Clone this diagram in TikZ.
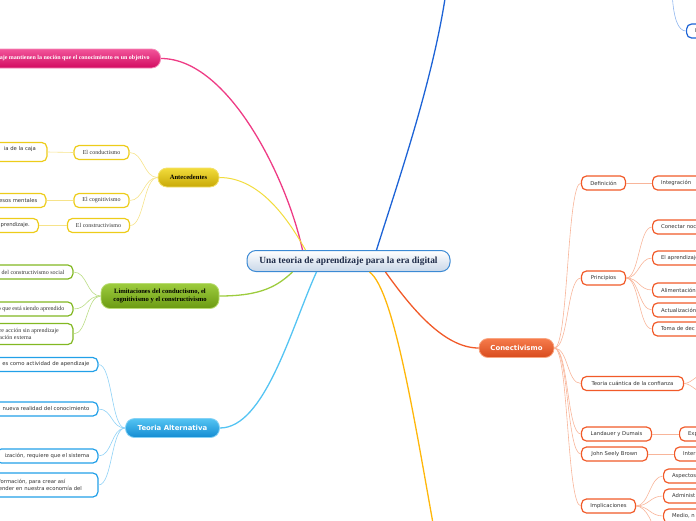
\documentclass[tikz,border=0pt]{standalone}
\usepackage{fontspec}
\setmainfont{Liberation Serif}
\newfontfamily\verdfont{DejaVu Sans}

\definecolor{rootline}{HTML}{3C8AD4}
\definecolor{rootfill}{HTML}{C9D7E8}
\definecolor{roottext}{HTML}{1E2B48}
\definecolor{pinktop}{HTML}{F2559A}
\definecolor{pinkbot}{HTML}{D20A60}
\definecolor{pinkedge}{HTML}{F58AB8}
\definecolor{pinklink}{HTML}{EE3C85}
\definecolor{yeltop}{HTML}{F2DC3C}
\definecolor{yelbot}{HTML}{C8A906}
\definecolor{yeledge}{HTML}{F3E06A}
\definecolor{yelleaf}{HTML}{EDCC1A}
\definecolor{yellink}{HTML}{F6E38A}
\definecolor{grntop}{HTML}{9DCC3E}
\definecolor{grnbot}{HTML}{6B9A12}
\definecolor{grnedge}{HTML}{B9DC72}
\definecolor{grnleaf}{HTML}{82B822}
\definecolor{grnlink}{HTML}{BBDD85}
\definecolor{blutop}{HTML}{55C4F3}
\definecolor{blubot}{HTML}{138BD2}
\definecolor{bluedge}{HTML}{86D2F6}
\definecolor{bluleaf}{HTML}{22A0E8}
\definecolor{blulink}{HTML}{90D2F6}
\definecolor{orgtop}{HTML}{F67B4C}
\definecolor{orgbot}{HTML}{D84B1D}
\definecolor{orgedge}{HTML}{F9A682}
\definecolor{orgleaf}{HTML}{F15A29}
\definecolor{orglink}{HTML}{F8B59A}
\definecolor{dkblue}{HTML}{1D63D6}
\definecolor{dkbluelink}{HTML}{8FB5EE}
\definecolor{goldline}{HTML}{FFB70A}
\definecolor{leaftext}{HTML}{333333}

\tikzset{
  rootbox/.style={draw=rootline, line width=1pt, rounded corners=9pt, top color=white, bottom color=rootfill,
    text=roottext, font=\fontsize{9.4}{11}\selectfont\bfseries, minimum height=21pt, inner xsep=4pt},
  topic/.style={rounded corners=9pt, line width=0.8pt, minimum height=19pt, inner xsep=6pt, inner ysep=2pt, align=center},
  serifbold/.style={font=\fontsize{6.6}{8.3}\selectfont\bfseries},
  sansbold/.style={font=\verdfont\fontsize{6.9}{8}\selectfont\bfseries, text=white},
  pinkbox/.style={topic, draw=pinkedge, top color=pinktop, bottom color=pinkbot, text=white,
    font=\fontsize{6}{7}\selectfont\bfseries},
  yelbox/.style={topic, serifbold, draw=yeledge, top color=yeltop, bottom color=yelbot, text=black},
  grnbox/.style={topic, serifbold, draw=grnedge, top color=grntop, bottom color=grnbot, text=black},
  blubox/.style={topic, sansbold, draw=bluedge, top color=blutop, bottom color=blubot},
  orgbox/.style={topic, sansbold, draw=orgedge, top color=orgtop, bottom color=orgbot},
  leaf/.style={draw, fill=white, rounded corners=5pt, line width=1.2pt, minimum height=14pt,
    inner xsep=8.5pt, inner ysep=2pt, text=leaftext, align=left},
  leafserif/.style={leaf, font=\fontsize{6}{7.4}\selectfont},
  leafsans/.style={leaf, font=\verdfont\fontsize{5.3}{7.2}\selectfont},
  yleaf/.style={leafserif, draw=yelleaf},
  ysleaf/.style={leafsans, draw=yelleaf},
  gleaf/.style={leafserif, draw=grnleaf},
  bleaf/.style={leafsans, draw=bluleaf},
  oleaf/.style={leafsans, draw=orgleaf},
  cutright/.style={anchor=west, text width=60pt},
  branch/.style={line width=1.3pt},
  twig/.style={line width=0.6pt}
}

\begin{document}
\begin{tikzpicture}[x=1pt,y=1pt]
\useasboundingbox (0,0) rectangle (696,-520);
\clip (0,0) rectangle (696,-520);

% centre
\node[rootbox, minimum width=203pt] (root) at (348.5,-261) {Una teoria de aprendizaje para la era digital};

% pink branch
\node[pinkbox, anchor=east, inner xsep=11pt] (objetivo) at (161,-58.5) {aje mantienen la noción que el conocimiento es un objetivo};

% antecedentes
\node[yelbox, minimum width=61pt] (antec) at (188.5,-177.5) {Antecedentes};
\node[yleaf, minimum width=55pt] (conduc) at (101.5,-152.5) {El conductismo};
\node[yleaf, minimum width=55pt] (cognit) at (101.5,-200.5) {El cognitivismo};
\node[yleaf, minimum width=61pt] (constr) at (98.5,-225.5) {El constructivismo};
\node[ysleaf, anchor=east, inner xsep=11pt, minimum height=19pt] (caja) at (47.5,-152) {ia de la caja\\\mbox{}};
\node[ysleaf, anchor=east] (mentales) at (46.5,-200.5) {esos mentales};
\node[ysleaf, anchor=east] (aprend) at (39,-225.5) {aprendizaje.};

% limitaciones
\node[grnbox, minimum width=118pt, minimum height=25pt] (limit) at (160,-296) {Limitaciones del conductismo, el\\cognitivismo y el constructivismo};
\node[gleaf, anchor=east] (social) at (73.5,-272) {n del constructivismo social};
\node[gleaf, anchor=east] (siendo) at (73.5,-309) {o que está siendo aprendido};
\node[gleaf, anchor=east, inner xsep=14pt, minimum height=21pt] (externa) at (73.5,-334) {re acción sin aprendizaje\\ación externa};

% teoria alternativa
\node[blubox, minimum width=94pt] (altern) at (172.5,-428) {Teoria Alternativa};
\node[bleaf, anchor=east] (activ) at (98.5,-364.5) {es como actividad de apendizaje};
\node[bleaf, anchor=east] (realidad) at (98.5,-409) {nueva realidad del conocimiento};
\node[bleaf, anchor=east] (sistema) at (98.5,-456) {ización, requiere que el sistema};
\node[bleaf, anchor=east, inner xsep=16pt, minimum height=24pt] (economia) at (98.5,-485) {formación, para crear así\\ender en nuestra economía del};

% conectivismo
\node[orgbox, minimum width=75pt] (conect) at (516.5,-348) {Conectivismo};
\node[oleaf, minimum width=44pt] (defin) at (603.5,-183) {Definición};
\node[oleaf, cutright] (integ) at (652,-183) {Integración};
\node[oleaf, minimum width=44pt] (princ) at (603.5,-278) {Principios};
\node[oleaf, cutright] (nodos) at (652,-227) {Conectar noc};
\node[oleaf, cutright] (elapr) at (652,-258) {El aprendizaje};
\node[oleaf, cutright] (alim) at (652,-290) {Alimentación};
\node[oleaf, cutright] (actual) at (652,-310) {Actualización};
\node[oleaf, cutright] (toma) at (652,-329) {Toma de dec};
\node[oleaf, minimum width=102pt] (cuant) at (632.5,-383.5) {Teoria cuántica de la confianza};
\node[oleaf, minimum width=70pt] (landau) at (616.5,-434) {Landauer y Dumais};
\node[oleaf, cutright] (expl) at (679,-434) {Exp};
\node[oleaf, minimum width=66pt] (seely) at (614.5,-454) {John Seely Brown};
\node[oleaf, cutright] (inter) at (674,-454) {Inter};
\node[oleaf, minimum width=54pt] (implic) at (608.5,-506) {Implicaciones};
\node[oleaf, cutright] (aspec) at (663,-476) {Aspectos};
\node[oleaf, cutright] (admin) at (663,-496) {Administ};
\node[oleaf, cutright] (medio) at (663,-516) {Medio, n};

% top right
\node[leafsans, draw=dkblue, cutright] (arriba) at (686,-31) {I};

% free ends
\coordinate (topend) at (447,15);
\coordinate (botend) at (436,-540);
\coordinate (arribaend) at (672,10);
\coordinate (cuant1) at (710,-371);
\coordinate (cuant2) at (710,-396);
\coordinate (implend) at (655,-540);

% branches from the centre
\draw[branch, pinklink] (objetivo.east) .. controls +(68,0) and +(-15,70) .. ([xshift=-46pt]root.north);
\draw[branch, yeltop, line width=1pt] (antec.east) .. controls +(40,0) and +(-18,32) .. ([xshift=-43pt]root.north);
\draw[branch, grntop] (limit.east) .. controls +(42,0) and +(-15,-14) .. ([xshift=-56pt]root.south);
\draw[branch, blutop] (altern.east) .. controls +(45,0) and +(-25,-55) .. ([xshift=-32pt]root.south);
\draw[branch, dkblue] ([xshift=28pt]root.north) .. controls +(22,70) and +(-12,-90) .. (topend);
\draw[branch, goldline] ([xshift=21pt]root.south) .. controls +(25,-18) and +(-20,110) .. (botend);
\draw[branch, orgleaf] ([xshift=37pt]root.south) .. controls +(25,-35) and +(-35,0) .. (conect.west);

% antecedentes
\draw[twig, yellink] (antec.west) .. controls +(-14,0) and +(14,0) .. (conduc.east);
\draw[twig, yellink] (antec.west) .. controls +(-14,0) and +(14,0) .. (cognit.east);
\draw[twig, yellink] (antec.west) .. controls +(-14,0) and +(14,0) .. (constr.east);
\draw[twig, yellink] (conduc.west) -- (caja.east);
\draw[twig, yellink] (cognit.west) -- (mentales.east);
\draw[twig, yellink] (constr.west) -- (aprend.east);

% limitaciones
\draw[twig, grnlink] (limit.west) .. controls +(-14,0) and +(14,0) .. (social.east);
\draw[twig, grnlink] (limit.west) .. controls +(-14,0) and +(14,0) .. (siendo.east);
\draw[twig, grnlink] (limit.west) .. controls +(-14,0) and +(14,0) .. (externa.east);

% teoria alternativa
\draw[twig, blulink] (altern.west) .. controls +(-14,0) and +(14,0) .. (activ.east);
\draw[twig, blulink] (altern.west) .. controls +(-14,0) and +(14,0) .. (realidad.east);
\draw[twig, blulink] (altern.west) .. controls +(-14,0) and +(14,0) .. (sistema.east);
\draw[twig, blulink] (altern.west) .. controls +(-14,0) and +(14,0) .. (economia.east);

% conectivismo
\draw[twig, orglink] (conect.east) .. controls +(14,0) and +(-14,0) .. (defin.west);
\draw[twig, orglink] (conect.east) .. controls +(14,0) and +(-14,0) .. (princ.west);
\draw[twig, orglink] (conect.east) .. controls +(14,0) and +(-14,0) .. (cuant.west);
\draw[twig, orglink] (conect.east) .. controls +(14,0) and +(-14,0) .. (landau.west);
\draw[twig, orglink] (conect.east) .. controls +(14,0) and +(-14,0) .. (seely.west);
\draw[twig, orglink] (conect.east) .. controls +(14,0) and +(-14,0) .. (implic.west);
\draw[twig, orglink] (defin.east) -- (integ.west);
\draw[twig, orglink] (princ.east) .. controls +(13,0) and +(-13,0) .. (nodos.west);
\draw[twig, orglink] (princ.east) .. controls +(13,0) and +(-13,0) .. (elapr.west);
\draw[twig, orglink] (princ.east) .. controls +(13,0) and +(-13,0) .. (alim.west);
\draw[twig, orglink] (princ.east) .. controls +(13,0) and +(-13,0) .. (actual.west);
\draw[twig, orglink] (princ.east) .. controls +(13,0) and +(-13,0) .. (toma.west);
\draw[twig, orglink] (cuant.east) .. controls +(8,0) and +(-10,0) .. (cuant1);
\draw[twig, orglink] (cuant.east) .. controls +(8,0) and +(-10,0) .. (cuant2);
\draw[twig, orglink] (landau.east) -- (expl.west);
\draw[twig, orglink] (seely.east) -- (inter.west);
\draw[twig, orglink] (implic.east) .. controls +(13,0) and +(-13,0) .. (aspec.west);
\draw[twig, orglink] (implic.east) .. controls +(13,0) and +(-13,0) .. (admin.west);
\draw[twig, orglink] (implic.east) .. controls +(13,0) and +(-13,0) .. (medio.west);
\draw[twig, orglink] (implic.east) .. controls +(10,0) and +(0,15) .. (implend);

% top right
\draw[twig, dkbluelink] (arribaend) .. controls +(1,-28) and +(-8,0) .. (arriba.west);
\end{tikzpicture}
\end{document}
